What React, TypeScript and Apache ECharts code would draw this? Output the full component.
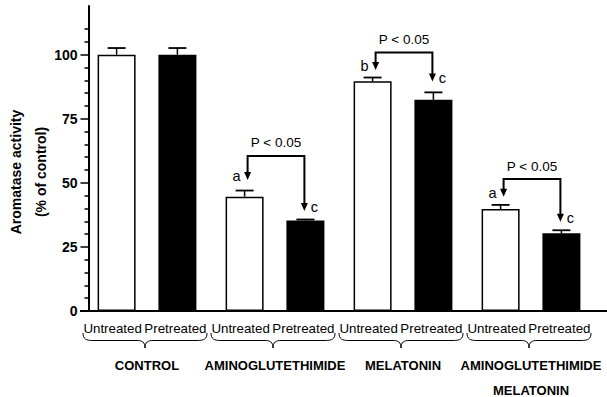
import React, { useEffect, useRef } from "react";
import * as echarts from "echarts";

// ---- data ----
const groups = ["CONTROL", "AMINOGLUTETHIMIDE", "MELATONIN", "AMINOGLUTETHIMIDE\nMELATONIN"];
const seriesNames = ["Untreated", "Pretreated"];
const untreated = [100, 44.6, 89.6, 39.8];
const untreatedErr = [2.6, 2.4, 1.5, 1.6];
const pretreated = [100, 35.3, 82.4, 30.3];
const pretreatedErr = [2.6, 0.4, 2.9, 1.2];
const yMajorTicks = [0, 25, 50, 75, 100];
const yMinorTicks = [5, 10, 15, 20, 30, 35, 40, 45, 55, 60, 65, 70, 80, 85, 90, 95, 105, 110];
const bracketGroup = [1, 2, 3];
const bracketTop = [60.5, 100.9, 51.5];
const bracketLeftTip = [51.1, 94.0, 44.6];
const bracketRightTip = [39.0, 89.5, 34.8];
const leftLetters = ["a", "b", "a"];
const rightLetters = ["c", "c", "c"];
const pText = "P < 0.05";
const yTitle = "Aromatase activity\n(% of control)";

// ---- layout ----
const W = 607;
const H = 397;
const GRID_LEFT = 83;
const GRID_RIGHT = 12;
const GRID_TOP = 6;
const GRID_BOTTOM = 86;
const BAR_W = 38;
const BAR_GAP = 0.6;
const OFF = (BAR_W * (1 + BAR_GAP)) / 2;
const FONT = "Liberation Sans";

export default function App() {
  const ref = useRef<HTMLDivElement>(null);
  useEffect(() => {
    if (!ref.current) return;
    const chart = echarts.init(ref.current, null, { renderer: "svg" });

    const errData = [
      ...untreated.map((v, i) => [i, v, untreatedErr[i], -1]),
      ...pretreated.map((v, i) => [i, v, pretreatedErr[i], 1]),
    ];
    const bracketData = bracketGroup.map((g, i) => [g, bracketTop[i], bracketLeftTip[i], bracketRightTip[i], i]);
    const braceData = groups.map((_, i) => [i, 0]);
    const axisY = H - GRID_BOTTOM;

    const barLabel = (dx: number) => ({
      show: true,
      position: "bottom",
      distance: 11,
      offset: [dx, 0],
      formatter: "{a}",
      fontSize: 13.3,
      fontFamily: FONT,
      color: "#000",
    });

    const option: any = {
      animation: false,
      backgroundColor: "#fff",
      textStyle: { fontFamily: FONT, color: "#000" },
      grid: {
        left: GRID_LEFT,
        right: GRID_RIGHT,
        top: GRID_TOP,
        bottom: GRID_BOTTOM,
        containLabel: false,
        outerBoundsMode: "none",
      },
      xAxis: {
        type: "category",
        data: groups,
        axisLine: { show: false },
        axisTick: { show: false },
        axisLabel: {
          margin: 42,
          fontSize: 13,
          fontWeight: "bold",
          fontFamily: FONT,
          color: "#000",
          lineHeight: 25,
          interval: 0,
        },
        splitLine: { show: false },
      },
      yAxis: [
        {
          type: "value",
          position: "left",
          offset: -5.5,
          min: 0,
          max: 119,
          axisLine: { show: true, lineStyle: { color: "#000", width: 2 } },
          axisTick: { show: true, length: 8, lineStyle: { color: "#000", width: 1.5 }, customValues: yMajorTicks },
          axisLabel: {
            customValues: yMajorTicks,
            margin: 11,
            fontSize: 14,
            fontWeight: "bold",
            fontFamily: FONT,
            color: "#000",
          },
          splitLine: { show: false },
        },
        {
          type: "value",
          position: "left",
          offset: -5.5,
          min: 0,
          max: 119,
          axisLine: { show: false },
          axisTick: { show: true, length: 4, lineStyle: { color: "#000", width: 1.5 }, customValues: yMinorTicks },
          axisLabel: { show: false },
          splitLine: { show: false },
        },
      ],
      series: [
        {
          name: seriesNames[0],
          type: "bar",
          data: untreated,
          barWidth: BAR_W,
          barGap: `${BAR_GAP * 100}%`,
          itemStyle: { color: "#fff", borderColor: "#000", borderWidth: 1.5 },
          label: barLabel(-4),
        },
        {
          name: seriesNames[1],
          type: "bar",
          data: pretreated,
          barWidth: BAR_W,
          barGap: `${BAR_GAP * 100}%`,
          itemStyle: { color: "#000", borderColor: "#000", borderWidth: 1.5 },
          label: barLabel(-2),
        },
        {
          type: "custom",
          name: "errors",
          data: errData,
          z: 5,
          renderItem: (params: any, api: any) => {
            const g = api.value(0);
            const v = api.value(1);
            const e = api.value(2);
            const side = api.value(3);
            const base = api.coord([g, v]);
            const top = api.coord([g, v + e]);
            const x = base[0] + side * OFF;
            return {
              type: "group",
              children: [
                { type: "line", shape: { x1: x, y1: base[1], x2: x, y2: top[1] }, style: { stroke: "#000", lineWidth: 1.5 } },
                { type: "line", shape: { x1: x - 9, y1: top[1], x2: x + 9, y2: top[1] }, style: { stroke: "#000", lineWidth: 1.8 } },
              ],
            };
          },
        },
        {
          type: "custom",
          name: "brackets",
          data: bracketData,
          z: 6,
          renderItem: (params: any, api: any) => {
            const g = api.value(0);
            const idx = api.value(4);
            const c = api.coord([g, api.value(1)]);
            const yTop = c[1];
            const yl = api.coord([g, api.value(2)])[1];
            const yr = api.coord([g, api.value(3)])[1];
            const xl = c[0] - OFF + 3;
            const xr = c[0] + OFF - 1;
            const ah = 8;
            const aw = 3.5;
            return {
              type: "group",
              children: [
                {
                  type: "polyline",
                  shape: { points: [[xl, yl - ah + 1], [xl, yTop], [xr, yTop], [xr, yr - ah + 1]] },
                  style: { stroke: "#000", lineWidth: 2, fill: "none" },
                },
                { type: "polygon", shape: { points: [[xl - aw, yl - ah], [xl + aw, yl - ah], [xl, yl]] }, style: { fill: "#000" } },
                { type: "polygon", shape: { points: [[xr - aw, yr - ah], [xr + aw, yr - ah], [xr, yr]] }, style: { fill: "#000" } },
                {
                  type: "text",
                  x: (xl + xr) / 2,
                  y: yTop - 13,
                  style: { text: pText, fontSize: 13.5, fontFamily: FONT, fill: "#000", align: "center", verticalAlign: "middle" },
                },
                {
                  type: "text",
                  x: xl - 11,
                  y: yl - 4,
                  style: { text: leftLetters[idx], fontSize: 14.5, fontFamily: FONT, fill: "#000", align: "center", verticalAlign: "middle" },
                },
                {
                  type: "text",
                  x: xr + 10,
                  y: yr - 4,
                  style: { text: rightLetters[idx], fontSize: 14.5, fontFamily: FONT, fill: "#000", align: "center", verticalAlign: "middle" },
                },
              ],
            };
          },
        },
        {
          type: "custom",
          name: "braces",
          data: braceData,
          z: 6,
          renderItem: (params: any, api: any) => {
            const c = api.coord([api.value(0), 0]);
            const cx = c[0] - 2;
            const y0 = c[1] + 22;
            const ym = y0 + 7.5;
            const tip = y0 + 15;
            const l = cx - 62;
            const r = cx + 62;
            const d =
              `M${l},${y0} C${l},${y0 + 6} ${l + 3},${ym} ${l + 10},${ym} ` +
              `L${cx - 8},${ym} C${cx - 3},${ym} ${cx},${ym + 1.5} ${cx},${tip} ` +
              `C${cx},${ym + 1.5} ${cx + 3},${ym} ${cx + 8},${ym} ` +
              `L${r - 10},${ym} C${r - 3},${ym} ${r},${y0 + 6} ${r},${y0}`;
            return {
              type: "path",
              shape: { pathData: d },
              style: { fill: "none", stroke: "#000", lineWidth: 1 },
            };
          },
        },
      ],
      graphic: [
        {
          type: "text",
          x: 28.5,
          y: 172,
          rotation: Math.PI / 2,
          style: {
            text: yTitle,
            fontSize: 14,
            fontWeight: "bold",
            fontFamily: FONT,
            fill: "#000",
            align: "center",
            verticalAlign: "middle",
            lineHeight: 25,
          },
        },
        {
          type: "line",
          z: 10,
          shape: { x1: GRID_LEFT - 3, y1: axisY, x2: W, y2: axisY },
          style: { stroke: "#000", lineWidth: 2 },
        },
      ],
    };
    chart.setOption(option);
    return () => chart.dispose();
  }, []);
  return <div ref={ref} style={{ position: "fixed", left: 0, top: 0, width: W, height: H }} />;
}
